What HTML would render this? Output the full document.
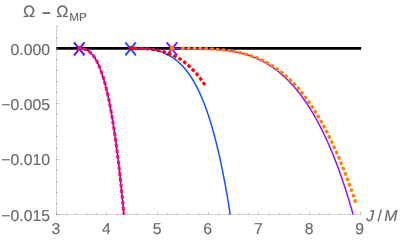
<!DOCTYPE html>
<html><head><meta charset="utf-8"><title>plot</title>
<style>html,body{margin:0;padding:0;background:#fff;width:402px;height:240px;overflow:hidden;font-family:"Liberation Sans",sans-serif}</style></head>
<body>
<svg width="402" height="240" viewBox="0 0 402 240" style="position:absolute;left:0;top:0;will-change:transform;text-rendering:geometricPrecision">
<rect width="402" height="240" fill="#fff"/>
<path d="M56.3 48.35H361.2" stroke="#000" stroke-width="2.75" fill="none"/>
<path d="M74.05 42.4L84.55 55.4M84.55 42.4L74.05 55.4" stroke="#3c14ff" stroke-width="1.95" fill="none"/>
<path d="M125.35 42.4L135.85 55.4M135.85 42.4L125.35 55.4" stroke="#1450ff" stroke-width="1.95" fill="none"/>
<path d="M166.65 42.4L177.15 55.4M177.15 42.4L166.65 55.4" stroke="#8c14ff" stroke-width="1.95" fill="none"/>
<path d="M79.75 48.35 L81.26 48.44 L82.76 48.68 L84.22 49.06 L85.65 49.56 L87.02 50.20 L88.32 50.98 L89.55 51.87 L90.70 52.86 L91.77 53.93 L92.76 55.07 L93.70 56.26 L94.57 57.50 L95.39 58.77 L96.16 60.07 L96.89 61.40 L97.59 62.75 L98.24 64.11 L98.87 65.49 L99.47 66.88 L100.04 68.28 L100.59 69.69 L101.12 71.11 L101.63 72.54 L102.12 73.97 L102.60 75.41 L103.06 76.86 L103.50 78.30 L103.94 79.76 L104.36 81.21 L104.76 82.67 L105.16 84.13 L105.55 85.60 L105.92 87.06 L106.29 88.53 L106.65 90.00 L107.00 91.48 L107.34 92.95 L107.68 94.43 L108.01 95.91 L108.33 97.39 L108.65 98.87 L108.96 100.35 L109.26 101.84 L109.56 103.32 L109.85 104.81 L110.14 106.30 L110.42 107.78 L110.70 109.27 L110.97 110.76 L111.24 112.25 L111.51 113.75 L111.77 115.24 L112.02 116.73 L112.28 118.22 L112.53 119.72 L112.77 121.21 L113.01 122.71 L113.25 124.20 L113.49 125.70 L113.72 127.20 L113.95 128.69 L114.18 130.19 L114.40 131.69 L114.62 133.19 L114.84 134.69 L115.06 136.19 L115.27 137.69 L115.48 139.19 L115.69 140.69 L115.90 142.19 L116.10 143.69 L116.31 145.19 L116.51 146.69 L116.70 148.19 L116.90 149.69 L117.09 151.20 L117.28 152.70 L117.47 154.20 L117.66 155.71 L117.85 157.21 L118.03 158.71 L118.22 160.22 L118.40 161.72 L118.58 163.22 L118.75 164.73 L118.93 166.23 L119.10 167.74 L119.28 169.24 L119.45 170.75 L119.62 172.25 L119.79 173.76 L119.95 175.26 L120.12 176.77 L120.28 178.28 L120.45 179.78 L120.61 181.29 L120.77 182.79 L120.93 184.30 L121.09 185.81 L121.24 187.31 L121.40 188.82 L121.55 190.33 L121.71 191.83 L121.86 193.34 L122.01 194.85 L122.16 196.36 L122.31 197.86 L122.46 199.37 L122.60 200.88 L122.75 202.39 L122.90 203.89 L123.04 205.40 L123.18 206.91 L123.32 208.42 L123.47 209.93 L123.61 211.43 L123.74 212.94 L123.88 214.45" stroke="#3c14ff" stroke-width="1.5" fill="none"/>
<path d="M131.00 48.35 L132.52 48.35 L134.04 48.35 L135.56 48.36 L137.08 48.37 L138.60 48.39 L140.12 48.43 L141.64 48.48 L143.16 48.55 L144.68 48.64 L146.19 48.76 L147.70 48.92 L149.21 49.11 L150.72 49.32 L152.22 49.58 L153.71 49.86 L155.19 50.19 L156.67 50.55 L158.14 50.95 L159.59 51.38 L161.04 51.86 L162.46 52.38 L163.88 52.94 L165.27 53.54 L166.65 54.19 L168.01 54.87 L169.35 55.59 L170.66 56.36 L171.95 57.16 L173.22 58.00 L174.46 58.88 L175.67 59.80 L176.86 60.74 L178.02 61.72 L179.16 62.73 L180.27 63.77 L181.35 64.84 L182.41 65.93 L183.44 67.05 L184.44 68.19 L185.42 69.35 L186.38 70.53 L187.31 71.73 L188.22 72.95 L189.11 74.19 L189.98 75.44 L190.82 76.70 L191.64 77.98 L192.45 79.27 L193.24 80.57 L194.00 81.88 L194.76 83.20 L195.49 84.53 L196.21 85.87 L196.91 87.22 L197.60 88.58 L198.27 89.94 L198.93 91.31 L199.57 92.69 L200.20 94.07 L200.82 95.46 L201.43 96.85 L202.02 98.25 L202.61 99.66 L203.18 101.06 L203.74 102.48 L204.30 103.89 L204.84 105.31 L205.37 106.74 L205.90 108.16 L206.41 109.59 L206.92 111.03 L207.41 112.46 L207.90 113.90 L208.39 115.34 L208.86 116.79 L209.33 118.23 L209.79 119.68 L210.24 121.13 L210.69 122.59 L211.13 124.04 L211.56 125.50 L211.99 126.96 L212.41 128.42 L212.83 129.88 L213.24 131.35 L213.64 132.81 L214.04 134.28 L214.43 135.75 L214.82 137.22 L215.21 138.69 L215.59 140.16 L215.96 141.63 L216.33 143.11 L216.70 144.58 L217.06 146.06 L217.41 147.54 L217.77 149.02 L218.11 150.50 L218.46 151.98 L218.80 153.46 L219.14 154.94 L219.47 156.42 L219.80 157.91 L220.12 159.39 L220.45 160.88 L220.77 162.36 L221.08 163.85 L221.39 165.34 L221.70 166.83 L222.01 168.32 L222.31 169.81 L222.61 171.30 L222.91 172.79 L223.21 174.28 L223.50 175.77 L223.79 177.26 L224.07 178.76 L224.36 180.25 L224.64 181.74 L224.91 183.24 L225.19 184.73 L225.46 186.23 L225.74 187.72 L226.00 189.22 L226.27 190.72 L226.53 192.21 L226.80 193.71 L227.06 195.21 L227.31 196.71 L227.57 198.21 L227.82 199.71 L228.07 201.21 L228.32 202.70 L228.57 204.20 L228.81 205.71 L229.06 207.21 L229.30 208.71 L229.54 210.21 L229.78 211.71 L230.01 213.21 L230.25 214.71" stroke="#1450ff" stroke-width="1.5" fill="none"/>
<path d="M172.00 48.35 L173.51 48.35 L175.02 48.35 L176.53 48.35 L178.05 48.36 L179.56 48.36 L181.07 48.37 L182.58 48.38 L184.09 48.39 L185.60 48.41 L187.11 48.42 L188.63 48.44 L190.14 48.46 L191.65 48.49 L193.16 48.52 L194.67 48.55 L196.18 48.58 L197.69 48.62 L199.20 48.66 L200.71 48.71 L202.22 48.76 L203.73 48.81 L205.24 48.87 L206.75 48.93 L208.26 48.99 L209.77 49.06 L211.28 49.14 L212.79 49.22 L214.30 49.30 L215.81 49.40 L217.32 49.51 L218.82 49.63 L220.33 49.77 L221.83 49.91 L223.34 50.07 L224.84 50.24 L226.34 50.42 L227.84 50.62 L229.33 50.84 L230.83 51.07 L232.32 51.32 L233.81 51.58 L235.29 51.87 L236.77 52.17 L238.25 52.49 L239.72 52.83 L241.19 53.19 L242.65 53.57 L244.11 53.97 L245.56 54.39 L247.01 54.83 L248.44 55.30 L249.88 55.78 L251.30 56.29 L252.71 56.82 L254.12 57.37 L255.52 57.95 L256.91 58.55 L258.28 59.17 L259.65 59.81 L261.01 60.47 L262.36 61.16 L263.69 61.87 L265.02 62.60 L266.33 63.35 L267.63 64.12 L268.92 64.91 L270.19 65.72 L271.46 66.55 L272.70 67.40 L273.94 68.27 L275.16 69.15 L276.38 70.06 L277.57 70.98 L278.76 71.92 L279.93 72.88 L281.08 73.85 L282.23 74.84 L283.36 75.84 L284.47 76.86 L285.58 77.90 L286.67 78.94 L287.74 80.00 L288.81 81.08 L289.86 82.16 L290.90 83.26 L291.92 84.37 L292.94 85.49 L293.94 86.62 L294.93 87.77 L295.90 88.92 L296.87 90.08 L297.82 91.26 L298.76 92.44 L299.69 93.63 L300.61 94.83 L301.52 96.04 L302.42 97.25 L303.30 98.48 L304.18 99.71 L305.04 100.95 L305.90 102.20 L306.75 103.45 L307.58 104.71 L308.41 105.97 L309.22 107.25 L310.03 108.52 L310.83 109.81 L311.62 111.10 L312.40 112.39 L313.17 113.69 L313.93 115.00 L314.69 116.31 L315.43 117.62 L316.17 118.94 L316.90 120.26 L317.62 121.59 L318.34 122.92 L319.04 124.26 L319.74 125.60 L320.44 126.94 L321.12 128.29 L321.80 129.64 L322.47 130.99 L323.13 132.35 L323.79 133.71 L324.44 135.07 L325.09 136.44 L325.73 137.81 L326.36 139.18 L326.99 140.56 L327.61 141.94 L328.22 143.32 L328.83 144.70 L329.43 146.09 L330.03 147.48 L330.62 148.87 L331.21 150.26 L331.79 151.66 L332.36 153.05 L332.93 154.45 L333.50 155.85 L334.06 157.26 L334.62 158.66 L335.17 160.07 L335.71 161.48 L336.25 162.89 L336.79 164.30 L337.32 165.72 L337.85 167.14 L338.37 168.55 L338.89 169.97 L339.41 171.39 L339.92 172.82 L340.42 174.24 L340.93 175.67 L341.43 177.09 L341.92 178.52 L342.41 179.95 L342.90 181.38 L343.38 182.81 L343.86 184.25 L344.33 185.68 L344.81 187.12 L345.27 188.55 L345.74 189.99 L346.20 191.43 L346.66 192.87 L347.11 194.31 L347.56 195.76 L348.01 197.20 L348.46 198.64 L348.90 200.09 L349.34 201.54 L349.77 202.98 L350.20 204.43 L350.63 205.88 L351.06 207.33 L351.48 208.78 L351.90 210.23 L352.32 211.69 L352.74 213.14 L353.15 214.59" stroke="#8c14ff" stroke-width="1.5" fill="none"/>
<path d="M79.75 48.35 L81.26 48.44 L82.76 48.68 L84.22 49.06 L85.65 49.56 L87.02 50.20 L88.32 50.98 L89.55 51.87 L90.70 52.86 L91.77 53.93 L92.76 55.07 L93.70 56.26 L94.57 57.50 L95.39 58.77 L96.16 60.07 L96.89 61.40 L97.59 62.75 L98.24 64.11 L98.87 65.49 L99.47 66.88 L100.04 68.28 L100.59 69.69 L101.12 71.11 L101.63 72.54 L102.12 73.97 L102.60 75.41 L103.06 76.86 L103.50 78.30 L103.94 79.76 L104.36 81.21 L104.76 82.67 L105.16 84.13 L105.55 85.60 L105.92 87.06 L106.29 88.53 L106.65 90.00 L107.00 91.48 L107.34 92.95 L107.68 94.43 L108.01 95.91 L108.33 97.39 L108.65 98.87 L108.96 100.35 L109.26 101.84 L109.56 103.32 L109.85 104.81 L110.14 106.30 L110.42 107.78 L110.70 109.27 L110.97 110.76 L111.24 112.25 L111.51 113.75 L111.77 115.24 L112.02 116.73 L112.28 118.22 L112.53 119.72 L112.77 121.21 L113.01 122.71 L113.25 124.20 L113.49 125.70 L113.72 127.20 L113.95 128.69 L114.18 130.19 L114.40 131.69 L114.62 133.19 L114.84 134.69 L115.06 136.19 L115.27 137.69 L115.48 139.19 L115.69 140.69 L115.90 142.19 L116.10 143.69 L116.31 145.19 L116.51 146.69 L116.70 148.19 L116.90 149.69 L117.09 151.20 L117.28 152.70 L117.47 154.20 L117.66 155.71 L117.85 157.21 L118.03 158.71 L118.22 160.22 L118.40 161.72 L118.58 163.22 L118.75 164.73 L118.93 166.23 L119.10 167.74 L119.28 169.24 L119.45 170.75 L119.62 172.25 L119.79 173.76 L119.95 175.26 L120.12 176.77 L120.28 178.28 L120.45 179.78 L120.61 181.29 L120.77 182.79 L120.93 184.30 L121.09 185.81 L121.24 187.31 L121.40 188.82 L121.55 190.33 L121.71 191.83 L121.86 193.34 L122.01 194.85 L122.16 196.36 L122.31 197.86 L122.46 199.37 L122.60 200.88 L122.75 202.39 L122.90 203.89 L123.04 205.40 L123.18 206.91 L123.32 208.42 L123.47 209.93 L123.61 211.43 L123.74 212.94 L123.88 214.45" stroke="#ff0a6e" stroke-width="3.0" stroke-dasharray="4.0 1.77" fill="none" stroke-dashoffset="2.3"/>
<path d="M131.00 48.35 L132.54 48.35 L134.08 48.36 L135.61 48.37 L137.15 48.39 L138.69 48.42 L140.23 48.46 L141.76 48.51 L143.30 48.58 L144.84 48.67 L146.37 48.77 L147.90 48.89 L149.43 49.04 L150.96 49.20 L152.49 49.39 L154.01 49.60 L155.53 49.84 L157.05 50.11 L158.56 50.41 L160.06 50.74 L161.55 51.10 L163.04 51.50 L164.52 51.93 L165.98 52.39 L167.44 52.89 L168.88 53.42 L170.31 53.99 L171.72 54.60 L173.12 55.24 L174.50 55.92 L175.86 56.63 L177.21 57.37 L178.53 58.15 L179.84 58.96 L181.13 59.80 L182.39 60.68 L183.64 61.58 L184.86 62.51 L186.07 63.47 L187.25 64.45 L188.41 65.46 L189.55 66.50 L190.67 67.55 L191.76 68.63 L192.84 69.72 L193.90 70.84 L194.94 71.98 L195.96 73.13 L196.96 74.29 L197.94 75.48 L198.91 76.67 L199.86 77.89 L200.79 79.11 L201.70 80.35 L202.60 81.60 L203.48 82.86 L204.35 84.13 L205.20 85.41" stroke="#ff0010" stroke-width="3.15" stroke-dasharray="3.6 2.17" fill="none" stroke-dashoffset="2.85"/>
<path d="M181.00 48.36 L182.51 48.36 L184.03 48.36 L185.54 48.37 L187.05 48.38 L188.56 48.39 L190.08 48.40 L191.59 48.42 L193.10 48.43 L194.61 48.46 L196.13 48.48 L197.64 48.51 L199.15 48.54 L200.66 48.58 L202.18 48.63 L203.69 48.67 L205.20 48.73 L206.71 48.79 L208.22 48.86 L209.73 48.93 L211.24 49.01 L212.75 49.10 L214.26 49.19 L215.77 49.30 L217.28 49.41 L218.79 49.54 L220.29 49.67 L221.80 49.82 L223.30 49.98 L224.81 50.15 L226.31 50.33 L227.81 50.53 L229.31 50.74 L230.80 50.96 L232.30 51.20 L233.79 51.45 L235.28 51.72 L236.76 52.01 L238.24 52.31 L239.72 52.63 L241.20 52.97 L242.67 53.33 L244.13 53.70 L245.59 54.10 L247.05 54.51 L248.50 54.95 L249.94 55.40 L251.38 55.88 L252.81 56.37 L254.23 56.89 L255.64 57.42 L257.05 57.98 L258.44 58.56 L259.83 59.16 L261.21 59.78 L262.58 60.43 L263.94 61.09 L265.29 61.78 L266.63 62.48 L267.95 63.21 L269.27 63.95 L270.57 64.72 L271.87 65.51 L273.15 66.31 L274.41 67.14 L275.67 67.98 L276.91 68.84 L278.14 69.72 L279.36 70.62 L280.56 71.54 L281.76 72.47 L282.93 73.42 L284.10 74.38 L285.25 75.36 L286.39 76.36 L287.52 77.37 L288.63 78.39 L289.73 79.43 L290.82 80.48 L291.90 81.54 L292.96 82.62 L294.01 83.70 L295.05 84.80 L296.08 85.91 L297.09 87.04 L298.10 88.17 L299.09 89.31 L300.07 90.46 L301.04 91.62 L301.99 92.80 L302.94 93.98 L303.88 95.16 L304.80 96.36 L305.72 97.57 L306.62 98.78 L307.52 100.00 L308.40 101.23 L309.27 102.46 L310.14 103.70 L311.00 104.95 L311.84 106.20 L312.68 107.46 L313.51 108.73 L314.33 110.00 L315.14 111.28 L315.94 112.56 L316.74 113.84 L317.52 115.14 L318.30 116.43 L319.07 117.74 L319.84 119.04 L320.59 120.35 L321.34 121.67 L322.08 122.99 L322.81 124.31 L323.54 125.64 L324.26 126.97 L324.97 128.30 L325.68 129.64 L326.38 130.98 L327.07 132.32 L327.76 133.67 L328.44 135.02 L329.12 136.37 L329.79 137.73 L330.45 139.09 L331.11 140.45 L331.76 141.82 L332.41 143.18 L333.05 144.55 L333.69 145.93 L334.32 147.30 L334.94 148.68 L335.56 150.06 L336.18 151.44 L336.79 152.82 L337.40 154.21 L338.00 155.60 L338.59 156.99 L339.19 158.38 L339.77 159.77 L340.36 161.17 L340.94 162.57 L341.51 163.97 L342.08 165.37 L342.65 166.77 L343.21 168.17 L343.77 169.58 L344.32 170.99 L344.87 172.40 L345.42 173.81 L345.96 175.22 L346.50 176.63 L347.03 178.05 L347.57 179.46 L348.09 180.88 L348.62 182.30 L349.14 183.72 L349.66 185.14 L350.17 186.57 L350.68 187.99 L351.19 189.41 L351.70 190.84 L352.20 192.27 L352.70 193.70 L353.19 195.12 L353.68 196.56 L354.17 197.99 L354.66 199.42 L355.14 200.85 L355.62 202.29 L356.10 203.72" stroke="#ff8000" stroke-width="3.15" stroke-dasharray="3.6 2.17" fill="none" stroke-dashoffset="5.58"/>
<path d="M56.5 26V214.5H361" stroke="#666" stroke-width="1" stroke-opacity="0.3" fill="none" shape-rendering="crispEdges"/>
<path d="M56.5 215.0v-3.7M66.5 215.0v-2.3M76.5 215.0v-2.3M86.5 215.0v-2.3M96.5 215.0v-2.3M106.5 215.0v-3.7M117.5 215.0v-2.3M127.5 215.0v-2.3M137.5 215.0v-2.3M147.5 215.0v-2.3M157.5 215.0v-3.7M167.5 215.0v-2.3M177.5 215.0v-2.3M187.5 215.0v-2.3M198.5 215.0v-2.3M208.5 215.0v-3.7M218.5 215.0v-2.3M228.5 215.0v-2.3M238.5 215.0v-2.3M248.5 215.0v-2.3M258.5 215.0v-3.7M269.5 215.0v-2.3M279.5 215.0v-2.3M289.5 215.0v-2.3M299.5 215.0v-2.3M309.5 215.0v-3.7M319.5 215.0v-2.3M329.5 215.0v-2.3M339.5 215.0v-2.3M350.5 215.0v-2.3M360.5 215.0v-3.7M56.0 214.5h3.7M56.0 203.5h2.3M56.0 192.5h2.3M56.0 181.5h2.3M56.0 170.5h2.3M56.0 159.5h3.7M56.0 148.5h2.3M56.0 136.5h2.3M56.0 125.5h2.3M56.0 114.5h2.3M56.0 103.5h3.7M56.0 92.5h2.3M56.0 81.5h2.3M56.0 70.5h2.3M56.0 59.5h2.3M56.0 48.5h3.7M56.0 37.5h2.3M56.0 26.5h2.3" stroke="#666" stroke-width="1" stroke-opacity="0.3" fill="none"/>
<circle cx="79.75" cy="48.3" r="2.45" fill="#ff0a6e"/>
<circle cx="131" cy="48.2" r="2.35" fill="#ff0010"/>
<circle cx="172" cy="48.2" r="2.35" fill="#ff8000"/>
<text x="55.80" y="233.8" font-family="Liberation Sans, sans-serif" stroke="#666" stroke-width="0.12" font-size="15.8" fill="#666" text-anchor="middle">3</text>
<text x="106.45" y="233.8" font-family="Liberation Sans, sans-serif" stroke="#666" stroke-width="0.12" font-size="15.8" fill="#666" text-anchor="middle">4</text>
<text x="157.10" y="233.8" font-family="Liberation Sans, sans-serif" stroke="#666" stroke-width="0.12" font-size="15.8" fill="#666" text-anchor="middle">5</text>
<text x="207.75" y="233.8" font-family="Liberation Sans, sans-serif" stroke="#666" stroke-width="0.12" font-size="15.8" fill="#666" text-anchor="middle">6</text>
<text x="258.40" y="233.8" font-family="Liberation Sans, sans-serif" stroke="#666" stroke-width="0.12" font-size="15.8" fill="#666" text-anchor="middle">7</text>
<text x="309.05" y="233.8" font-family="Liberation Sans, sans-serif" stroke="#666" stroke-width="0.12" font-size="15.8" fill="#666" text-anchor="middle">8</text>
<text x="359.70" y="233.8" font-family="Liberation Sans, sans-serif" stroke="#666" stroke-width="0.12" font-size="15.8" fill="#666" text-anchor="middle">9</text>
<text x="50" y="54.60" font-family="Liberation Sans, sans-serif" stroke="#666" stroke-width="0.12" font-size="15.8" fill="#666" text-anchor="end">0.000</text>
<text x="50" y="109.97" font-family="Liberation Sans, sans-serif" stroke="#666" stroke-width="0.12" font-size="15.8" fill="#666" text-anchor="end">−0.005</text>
<text x="50" y="165.33" font-family="Liberation Sans, sans-serif" stroke="#666" stroke-width="0.12" font-size="15.8" fill="#666" text-anchor="end">−0.010</text>
<text x="50" y="220.69" font-family="Liberation Sans, sans-serif" stroke="#666" stroke-width="0.12" font-size="15.8" fill="#666" text-anchor="end">−0.015</text>
<text x="22.95" y="16.6" font-family="Liberation Sans, sans-serif" stroke="#666" stroke-width="0.12" font-size="16.35" fill="#666">Ω</text>
<text x="41.9" y="18.0" font-family="Liberation Sans, sans-serif" stroke="#666" stroke-width="0.12" font-size="15" font-weight="bold" fill="#666">−</text>
<text x="56.3" y="16.6" font-family="Liberation Sans, sans-serif" stroke="#666" stroke-width="0.12" font-size="16.35" fill="#666">Ω</text>
<text x="69.25" y="20.65" font-family="Liberation Sans, sans-serif" stroke="#666" stroke-width="0.12" font-size="11.7" fill="#666">MP</text>
<text x="366.15" y="220.6" font-family="Liberation Sans, sans-serif" stroke="#666" stroke-width="0.12" font-size="15.8" font-style="italic" fill="#666">J</text>
<text x="377.5" y="220.6" font-family="Liberation Sans, sans-serif" stroke="#666" stroke-width="0.12" font-size="15.8" fill="#666">/</text>
<text x="384.2" y="220.6" font-family="Liberation Sans, sans-serif" stroke="#666" stroke-width="0.12" font-size="15.8" font-style="italic" fill="#666">M</text>
</svg>
</body></html>
